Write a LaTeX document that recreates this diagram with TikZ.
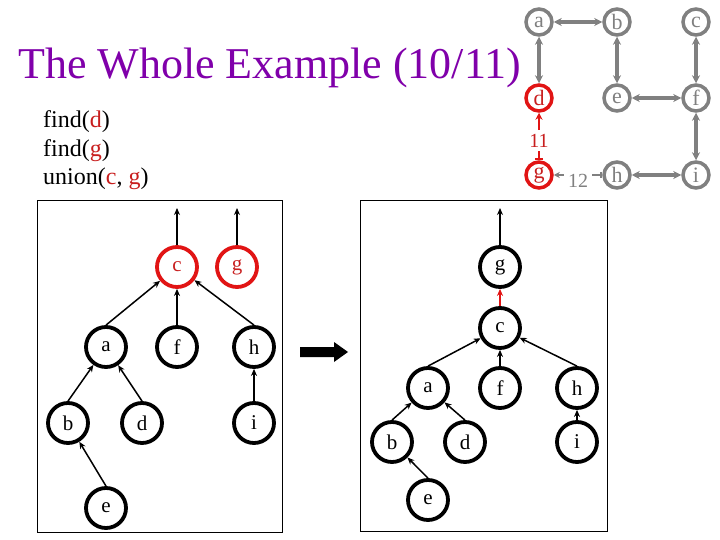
\documentclass[tikz,border=0pt]{standalone}
\usepackage{fontspec}
\setmainfont{Liberation Serif}
\usetikzlibrary{arrows.meta}
\definecolor{ttl}{RGB}{128,0,170}
\definecolor{rd}{RGB}{225,20,20}
\definecolor{rdtxt}{RGB}{200,30,30}
\definecolor{gr}{RGB}{128,128,128}
\tikzset{
  tnode/.style={circle, draw=black, line width=3.8pt, minimum size=40pt, inner sep=0pt, font=\fontsize{21}{21}\selectfont},
  rnode/.style={tnode, draw=rd, text=rdtxt},
  tedge/.style={line width=1.5pt, -{Stealth[length=7pt,width=6pt]}},
  redge/.style={tedge, draw=rd},
  gnode/.style={circle, draw=gr, text=gr, line width=3.5pt, minimum size=26pt, inner sep=0pt, font=\fontsize{22}{22}\selectfont},
  grnode/.style={gnode, draw=rd, text=rdtxt},
  gedge/.style={draw=gr, line width=3.5pt, {Stealth[length=8pt,width=8pt]}-{Stealth[length=8pt,width=8pt]}},
  lbl/.style={font=\fontsize{20}{20}\selectfont, fill=white, inner sep=1pt},
  frame/.style={draw=black, line width=1pt},
  cmd/.style={anchor=base west, font=\fontsize{24}{24}\selectfont, inner sep=0pt}
}
\begin{document}
\begin{tikzpicture}[x=1pt,y=-1pt]
\useasboundingbox (0,0) rectangle (720,540);
% title
\node[anchor=base west, inner sep=0pt, text=ttl, font=\fontsize{44}{44}\selectfont] (title) at (18,79) {The Whole Example (10/11)};
% commands
\node[cmd] (c1) at (43,128) {find(\textcolor{rdtxt}{d})};
\node[cmd] (c2) at (43,157) {find(\textcolor{rdtxt}{g})};
\node[cmd] (c3) at (43,185) {union(\textcolor{rdtxt}{c}, \textcolor{rdtxt}{g})};
% top-right graph
\node[gnode] (ga) at (539,22) {a};
\node[gnode] (gb) at (617,22) {b};
\node[gnode] (gc) at (696,22) {c};
\node[grnode] (gd) at (539,98) {d};
\node[gnode] (ge) at (617,98) {e};
\node[gnode] (gf) at (696,98) {f};
\node[grnode] (gg) at (539,175) {g};
\node[gnode] (gh) at (617,175) {h};
\node[gnode] (gi) at (696,175) {i};
\draw[gedge] (ga) -- (gb);
\draw[gedge] (ga) -- (gd);
\draw[gedge] (gb) -- (ge);
\draw[gedge] (gc) -- (gf);
\draw[gedge] (ge) -- (gf);
\draw[gedge] (gf) -- (gi);
\draw[gedge] (gh) -- (gi);
\draw[draw=rd, line width=2.5pt, {Bar[width=8pt,line width=2pt]}-{Stealth[length=7pt,width=7pt]}] (gg) -- node[lbl, text=rdtxt, yshift=-4pt, inner ysep=4pt] (l11) {11} (gd);
\draw[draw=gr, line width=2.5pt, {Bar[width=6pt,line width=2pt]}-{Stealth[length=6pt,width=6pt]}] (gh) -- node[lbl, text=gr, yshift=-6pt, inner xsep=4pt] (l12) {12} (gg);
% left frame
\draw[frame] (37,201) rectangle (282,532);
\node[rnode] (lc) at (177,267) {c};
\node[rnode] (lg) at (237,267) {g};
\node[tnode] (la) at (106,347) {a};
\node[tnode] (lf) at (177,347) {f};
\node[tnode] (lh) at (254,347) {h};
\node[tnode] (lb) at (68,423) {b};
\node[tnode] (ld) at (142,423) {d};
\node[tnode] (li) at (254,423) {i};
\node[tnode] (le) at (106,508) {e};
\coordinate (lct) at (177,208);
\coordinate (lgt) at (237,208);
\draw[tedge] (lc.north) -- (lct);
\draw[tedge] (lg.north) -- (lgt);
\draw[tedge] (la.north) -- (lc);
\draw[tedge] (lf.north) -- (lc);
\draw[tedge] (lh.north) -- (lc);
\draw[tedge] (lb.north) -- (la);
\draw[tedge] (ld.north) -- (la);
\draw[tedge] (li.north) -- (lh);
\draw[tedge] (le.north) -- (lb);
% big arrow
\fill[black] (300,347) -- (334,347) -- (334,342) -- (348,352) -- (334,362) -- (334,357) -- (300,357) -- cycle;
% right frame
\draw[frame] (360,201) rectangle (607,531);
\node[tnode] (rg) at (500,267) {g};
\node[tnode] (rc) at (500,328) {c};
\node[tnode] (ra) at (428,388) {a};
\node[tnode] (rf) at (500,388) {f};
\node[tnode] (rh) at (577,388) {h};
\node[tnode] (rb) at (392,442) {b};
\node[tnode] (rd) at (465,442) {d};
\node[tnode] (ri) at (577,442) {i};
\node[tnode] (re) at (428,500) {e};
\coordinate (rgt) at (500,208);
\draw[tedge] (rg.north) -- (rgt);
\draw[redge] (rc) -- (rg);
\draw[tedge] (ra.north) -- (rc);
\draw[tedge] (rf.north) -- (rc);
\draw[tedge] (rh.north) -- (rc);
\draw[tedge] (rb.north) -- (ra);
\draw[tedge] (rd.north) -- (ra);
\draw[tedge] (ri.north) -- (rh);
\draw[tedge] (re.north) -- (rb);
\end{tikzpicture}
\end{document}
